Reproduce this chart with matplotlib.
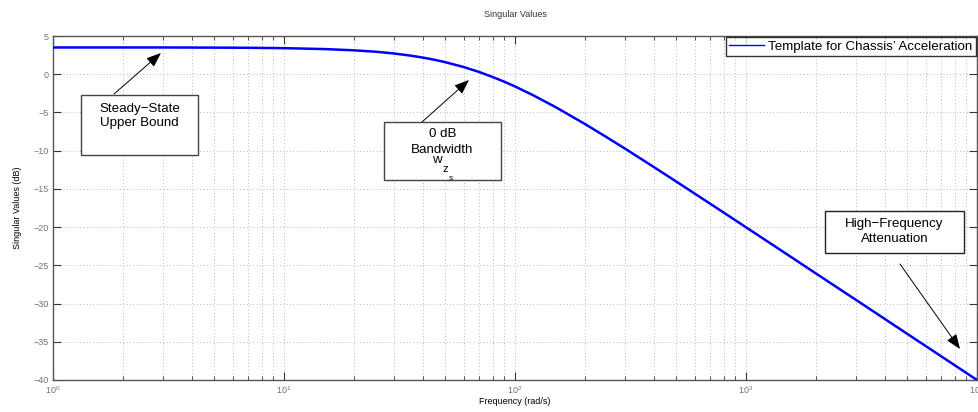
import matplotlib
matplotlib.use("Agg")
import matplotlib.pyplot as plt
from matplotlib.patches import Rectangle, FancyArrowPatch
from matplotlib.ticker import LogLocator, FixedLocator, NullFormatter

plt.rcParams['font.family'] = ['Liberation Sans', 'DejaVu Sans']

# Template magnitude (rad/s, dB)
freq = [1, 2, 3, 5, 7, 10, 15, 20, 25, 30, 35, 40, 45, 50, 60, 70, 80, 90, 100,
        120, 150, 200, 250, 300, 400, 500, 700, 1000, 1500, 2000, 3000, 5000,
        7000, 10000]
gain_db = [3.50, 3.50, 3.50, 3.48, 3.46, 3.41, 3.29, 3.13, 2.94, 2.71, 2.45,
           2.17, 1.88, 1.57, 0.94, 0.29, -0.36, -0.99, -1.60, -2.76, -4.31,
           -6.48, -8.26, -9.75, -12.16, -14.06, -16.94, -20.02, -23.53, -26.03,
           -29.54, -33.98, -36.90, -40.00]

y_ticks = [-40, -35, -30, -25, -20, -15, -10, -5, 0, 5]
series_label = "Template for Chassis\u2019 Acceleration"
title = "Singular Values"
x_label = "Frequency (rad/s)"
y_label = "Singular Values (dB)"

W, H = 979, 412
fig = plt.figure(figsize=(W / 100, H / 100), dpi=100)
ax = fig.add_axes([53 / W, 1 - 380 / H, 924 / W, 344 / H])

ax.semilogx(freq, gain_db, color='#0000ff', lw=1.8, label=series_label, zorder=3)
ax.set_xlim(1, 1e4)
ax.set_ylim(-40, 5)
ax.yaxis.set_major_locator(FixedLocator(y_ticks))
ax.xaxis.set_major_locator(LogLocator(base=10, numticks=10))
ax.xaxis.set_minor_locator(LogLocator(base=10, subs=range(2, 10), numticks=50))
ax.xaxis.set_minor_formatter(NullFormatter())

frame_col = '#555555'
label_col = '#707070'
for s in ax.spines.values():
    s.set_color(frame_col)
    s.set_linewidth(1.0)
ax.tick_params(which='both', direction='in', top=True, right=True,
               colors='#333333', labelcolor=label_col, labelsize=6.5)
ax.tick_params(which='major', length=6, width=0.8, pad=3)
ax.tick_params(which='minor', length=3, width=0.6)

ax.grid(True, which='major', axis='both', ls=(0, (1, 3)), color='#a0a0a0', lw=0.6)
ax.grid(True, which='minor', axis='x', ls=(0, (1, 3)), color='#a0a0a0', lw=0.6)

ax.set_title(title, fontsize=6.5, color='#333333', pad=14)
ax.set_xlabel(x_label, fontsize=6.5, labelpad=1)
ax.set_ylabel(y_label, fontsize=6.5, labelpad=8)

leg = ax.legend(loc='upper right', fontsize=9.6, frameon=True, fancybox=False,
                borderpad=0.25, handlelength=2.6, handletextpad=0.3,
                borderaxespad=0.1)
leg.get_frame().set_edgecolor('black')
leg.get_frame().set_linewidth(1.0)
for ln in leg.get_lines():
    ln.set_linewidth(1.0)


def fp(x, y):
    return (x / W, 1 - y / H)


def label(x, y, txt, fs=9.6):
    fig.text(x / W, 1 - y / H, txt, ha='center', va='baseline', fontsize=fs, zorder=6)


def textbox(x0, y0, x1, y1, lines, edge):
    bx, by = fp(x0, y1)
    fig.patches.append(Rectangle((bx, by), (x1 - x0) / W, (y1 - y0) / H,
                                 transform=fig.transFigure, facecolor='white',
                                 edgecolor=edge, lw=1.0, zorder=5))
    for txt, ty in lines:
        label((x0 + x1) / 2, ty, txt)


def arrow(tail, head):
    fig.add_artist(FancyArrowPatch(
        fp(*tail), fp(*head), transform=fig.transFigure,
        arrowstyle='-|>,head_length=0.9,head_width=0.35', mutation_scale=10,
        lw=0.7, color='black', shrinkA=0, shrinkB=0, zorder=7))


textbox(81, 95, 198, 155, [("Steady\u2212State", 112), ("Upper Bound", 126)], '#444444')
arrow((114, 94), (161, 53))

textbox(384, 122, 501, 180, [("0 dB", 137), ("Bandwidth", 153)], '#444444')
# w with nested subscripts z, s
label(437, 163, "w")
label(445.5, 172, "z", 8.0)
label(450.5, 179.5, "s", 6.0)
arrow((422, 122), (469, 80))

textbox(825, 211, 964, 253, [("High\u2212Frequency", 227), ("Attenuation", 242)], '#222222')
arrow((900, 264), (960, 349))

fig.savefig("out.png", dpi=100)
